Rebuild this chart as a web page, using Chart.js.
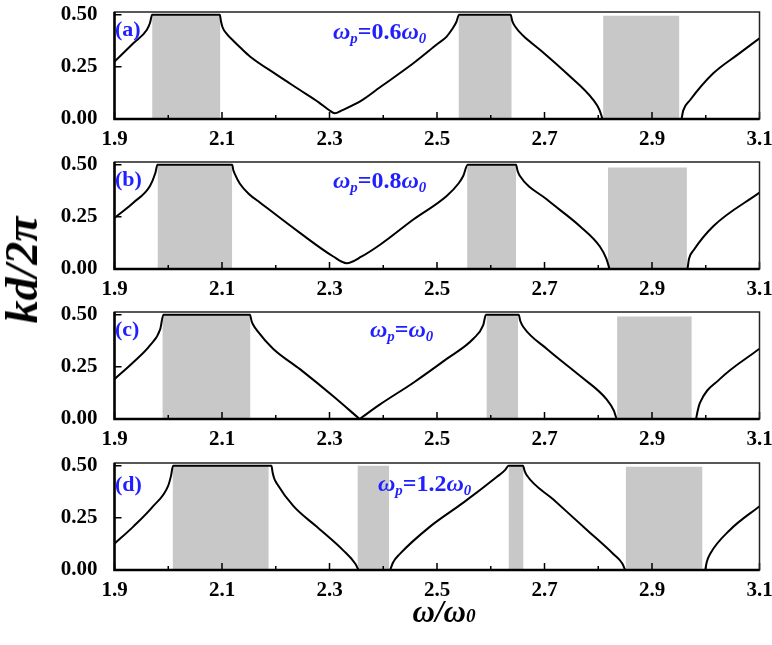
<!DOCTYPE html>
<html><head><meta charset="utf-8">
<script src="https://cdn.jsdelivr.net/npm/chart.js@4.4.1/dist/chart.umd.min.js"></script>
<style>
html,body{margin:0;padding:0;background:#fff;}
#wrap{position:relative;width:772px;height:645px;overflow:hidden;font-family:"Liberation Serif","Times New Roman",serif;}
.pc{position:absolute;left:0;width:772px;height:150px;}
.lbl{position:absolute;color:#1f1fff;font-weight:bold;font-size:22px;line-height:1;white-space:nowrap;}
.ann{position:absolute;color:#1f1fff;font-weight:bold;font-size:24px;line-height:1;white-space:nowrap;}
.ann i{font-style:italic;}
.sb{font-size:0.62em;position:relative;top:0.3em;font-style:italic;}
.ytitle{position:absolute;left:22px;top:270px;transform:translate(-50%,-50%) rotate(-90deg);font-weight:bold;font-style:italic;font-size:46px;line-height:1;white-space:nowrap;color:#000;}
.xtitle{position:absolute;left:444px;top:611px;transform:translate(-50%,-50%);font-weight:bold;font-style:italic;font-size:31px;line-height:1;white-space:nowrap;color:#000;}
</style></head>
<body><div id="wrap">
<canvas id="c0" class="pc" width="772" height="150" style="top:0px"></canvas>
<canvas id="c1" class="pc" width="772" height="150" style="top:150px"></canvas>
<canvas id="c2" class="pc" width="772" height="150" style="top:300px"></canvas>
<canvas id="c3" class="pc" width="772" height="150" style="top:451px"></canvas>
<div class="lbl" style="left:115px;top:18px">(a)</div>
<div class="lbl" style="left:115px;top:168px">(b)</div>
<div class="lbl" style="left:115px;top:318px">(c)</div>
<div class="lbl" style="left:115px;top:473px">(d)</div>
<div class="ann" style="left:333px;top:19px"><i>ω</i><span class="sb">p</span>=0.6<i>ω</i><span class="sb">0</span></div>
<div class="ann" style="left:333px;top:168px"><i>ω</i><span class="sb">p</span>=0.8<i>ω</i><span class="sb">0</span></div>
<div class="ann" style="left:370px;top:317px"><i>ω</i><span class="sb">p</span>=<i>ω</i><span class="sb">0</span></div>
<div class="ann" style="left:378px;top:471px"><i>ω</i><span class="sb">p</span>=1.2<i>ω</i><span class="sb">0</span></div>
<div class="ytitle">kd/2π</div>
<div class="xtitle">ω/ω<span style="font-size:0.62em">0</span></div>
</div>
<script>
// ---- axis ticks ----
const xTicks = [1.9,2.0,2.1,2.2,2.3,2.4,2.5,2.6,2.7,2.8,2.9,3.0,3.1];
const xTickLabels = ['1.9','2.1','2.3','2.5','2.7','2.9','3.1'];
const yTicks = [0,0.25,0.5];
const yTickLabels = ['0.00','0.25','0.50'];

// ---- panel (a) wp = 0.6 w0 ----
const aX = [1.9,1.935,1.96,1.966,1.970,2.096,2.098,2.101,2.11,2.121,2.135,2.152,2.2,2.245,2.28,2.299,2.31,2.322,2.36,2.394,2.456,2.50,2.518,2.528,2.536,2.541,2.637,2.640,2.645,2.66,2.692,2.741,2.791,2.802,2.808,2.808,2.955,2.958,2.971,3.014,3.06,3.1];
const aY = [0.275,0.363,0.427,0.46,0.5,0.5,0.47,0.44,0.405,0.375,0.34,0.30,0.215,0.139,0.08,0.043,0.027,0.04,0.089,0.152,0.267,0.358,0.395,0.43,0.465,0.5,0.5,0.47,0.445,0.40,0.331,0.219,0.091,0.045,0,null,0,0.04,0.091,0.219,0.31,0.387];
const aGapStart = [1.970,2.540,2.809];
const aGapEnd   = [2.097,2.639,2.951];
const aGapTop   = [0.5,0.5,0.495];

// ---- panel (b) wp = 0.8 w0 ----
const bX = [1.9,1.935,1.966,1.976,1.980,2.119,2.121,2.124,2.133,2.15,2.171,2.245,2.307,2.332,2.36,2.394,2.456,2.518,2.540,2.549,2.557,2.647,2.650,2.654,2.704,2.766,2.803,2.815,2.821,2.821,2.966,2.969,2.978,3.014,3.1];
const bY = [0.245,0.318,0.398,0.46,0.5,0.5,0.475,0.455,0.41,0.36,0.318,0.173,0.060,0.028,0.06,0.116,0.237,0.350,0.41,0.447,0.5,0.5,0.47,0.447,0.334,0.205,0.108,0.05,0,null,0,0.05,0.092,0.205,0.366];
const bGapStart = [1.980,2.556,2.818];
const bGapEnd   = [2.119,2.647,2.965];
const bGapTop   = [0.5,0.5,0.487];

// ---- panel (c) wp = w0 (sharp V at 2.356: curve split there) ----
const cX = [1.9,1.935,1.966,1.985,1.991,2.152,2.155,2.158,2.165,2.195,2.245,2.307,2.356,2.356,2.356,2.394,2.456,2.518,2.568,2.586,2.591,2.652,2.655,2.661,2.704,2.766,2.816,2.829,2.834,2.834,2.982,2.985,2.989,3.026,3.1];
const cY = [0.191,0.272,0.353,0.43,0.5,0.5,0.47,0.452,0.425,0.337,0.239,0.109,0.0,null,0.0,0.07,0.174,0.288,0.386,0.45,0.5,0.5,0.47,0.44,0.337,0.207,0.093,0.04,0,null,0,0.04,0.076,0.191,0.337];
const cGapStart = [1.989,2.592,2.835];
const cGapEnd   = [2.153,2.651,2.974];
const cGapTop   = [0.5,0.5,0.492];

// ---- panel (d) wp = 1.2 w0 ----
const dX = [1.9,1.935,1.972,2.0,2.005,2.009,2.192,2.194,2.197,2.202,2.233,2.276,2.326,2.348,2.354,2.354,2.413,2.418,2.431,2.487,2.549,2.611,2.627,2.633,2.66,2.663,2.667,2.716,2.779,2.828,2.845,2.850,2.850,2.999,3.002,3.008,3.045,3.1];
const dY = [0.126,0.208,0.306,0.405,0.45,0.5,0.5,0.47,0.44,0.415,0.306,0.208,0.093,0.03,0,null,0,0.035,0.077,0.208,0.323,0.446,0.48,0.5,0.5,0.475,0.454,0.339,0.192,0.077,0.03,0,null,0,0.04,0.077,0.192,0.306];
const dGapStart = [2.008,2.352,2.633,2.851];
const dGapEnd   = [2.187,2.411,2.661,2.994];
const dGapTop   = [0.5,0.5,0.5,0.495];

const FONT = '"Liberation Serif","Times New Roman",serif';

const framePlugin = {
  id:'frame',
  afterDatasetsDraw(chart){
    const {ctx, chartArea:a, scales} = chart;
    const x = scales.x, y = scales.y;
    ctx.save();
    ctx.strokeStyle = '#000';
    ctx.lineWidth = 1.5;
    ctx.beginPath();
    xTicks.forEach(v=>{
      const px = x.getPixelForValue(v);
      const major = xTickLabels.indexOf(v.toFixed(1)) >= 0;
      const len = major ? 7 : 4;
      ctx.moveTo(px, a.bottom); ctx.lineTo(px, a.bottom - len);
    });
    yTicks.forEach(v=>{
      if (v === 0) return;
      const py = y.getPixelForValue(v);
      ctx.moveTo(a.left, py); ctx.lineTo(a.left + 7, py);
    });
    ctx.stroke();
    ctx.strokeStyle = '#222';
    ctx.lineWidth = 1.5;
    ctx.strokeRect(a.left, a.top, a.right - a.left, a.bottom - a.top);
    ctx.strokeStyle = '#000';
    ctx.lineWidth = 2.5;
    ctx.beginPath();
    ctx.moveTo(a.left, a.top); ctx.lineTo(a.left, a.bottom); ctx.lineTo(a.right, a.bottom);
    ctx.stroke();
    ctx.restore();
  }
};

function makeChart(id, xs, ys, gs, ge, gt){
  const datasets = [{
    data: xs.map((v,i)=>({x:v, y:ys[i]})),
    borderColor:'#000', borderWidth:2, pointRadius:0,
    cubicInterpolationMode:'monotone', fill:false, spanGaps:false, order:0
  }];
  gs.forEach((s,i)=>{
    datasets.push({
      data:[{x:s,y:gt[i]},{x:ge[i],y:gt[i]}],
      borderWidth:0, borderColor:'rgba(0,0,0,0)', pointRadius:0,
      backgroundColor:'#c8c8c8', fill:'origin', order:1, tension:0
    });
  });
  new Chart(document.getElementById(id), {
    type:'line',
    data:{datasets},
    plugins:[framePlugin],
    options:{
      responsive:false, animation:false, devicePixelRatio:1,
      layout:{padding:{top:12,right:12.5,left:0,bottom:0}},
      plugins:{legend:{display:false}, tooltip:{enabled:false}},
      scales:{
        x:{
          type:'linear', min:1.9, max:3.1,
          afterBuildTicks:s=>{ s.ticks = xTicks.map(v=>({value:v})); },
          afterFit:s=>{ s.height = 31; s.paddingLeft = 0; s.paddingRight = 0; s.paddingTop = 0; s.paddingBottom = 0; },
          grid:{display:false, drawTicks:false},
          border:{display:false},
          ticks:{
            padding:8, color:'#000', maxRotation:0, autoSkip:false,
            font:{family:FONT, size:21, weight:'bold'},
            callback:(v)=>{ const t = Number(v).toFixed(1); return xTickLabels.indexOf(t) >= 0 ? t : ''; }
          }
        },
        y:{
          type:'linear', min:0, max:0.513,
          afterBuildTicks:s=>{ s.ticks = yTicks.map(v=>({value:v})); },
          afterFit:s=>{ s.width = 114.5; s.paddingLeft = 0; s.paddingRight = 0; s.paddingTop = 0; s.paddingBottom = 0; },
          grid:{display:false, drawTicks:false},
          border:{display:false},
          ticks:{
            padding:17, color:'#000',
            font:{family:FONT, size:21, weight:'bold'},
            callback:(v)=>{ const i = yTicks.indexOf(Number(v)); return i >= 0 ? yTickLabels[i] : ''; }
          }
        }
      }
    }
  });
}

makeChart('c0', aX, aY, aGapStart, aGapEnd, aGapTop);
makeChart('c1', bX, bY, bGapStart, bGapEnd, bGapTop);
makeChart('c2', cX, cY, cGapStart, cGapEnd, cGapTop);
makeChart('c3', dX, dY, dGapStart, dGapEnd, dGapTop);
</script>
</body></html>
